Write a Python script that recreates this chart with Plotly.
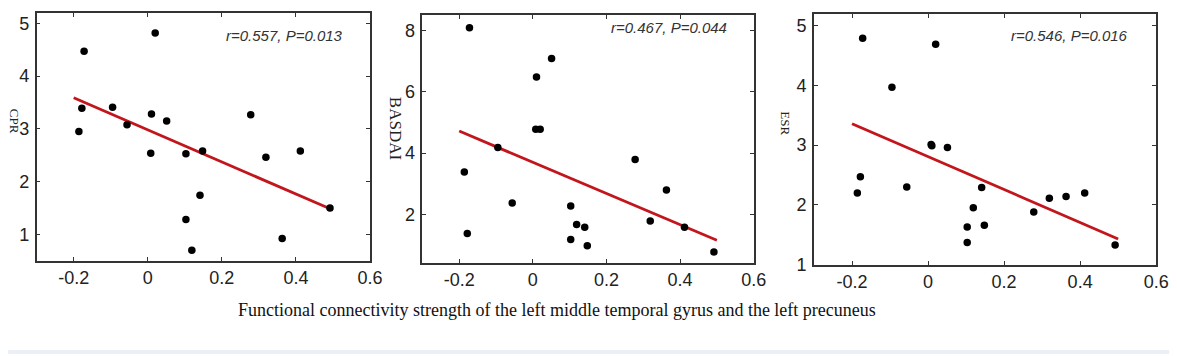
import plotly.graph_objects as go

# Shared x: functional connectivity strength
fc_strength = [-0.186, -0.178, -0.172, -0.095, -0.056, 0.008, 0.010, 0.020, 0.051,
               0.103, 0.103, 0.119, 0.141, 0.148, 0.278, 0.319, 0.363, 0.412, 0.492]

cpr = [2.95, 3.39, 4.47, 3.41, 3.08, 2.54, 3.28, 4.82, 3.15,
       2.53, 1.28, 0.70, 1.74, 2.58, 3.27, 2.46, 0.92, 2.58, 1.50]
basdai = [3.38, 1.37, 8.10, 4.18, 2.37, 4.78, 6.49, 4.78, 7.09,
          2.27, 1.18, 1.67, 1.58, 0.97, 3.79, 1.78, 2.79, 1.58, 0.77]
esr = [2.20, 2.47, 4.79, 3.97, 2.30, 3.01, 2.99, 4.69, 2.96,
       1.63, 1.37, 1.95, 2.29, 1.66, 1.88, 2.11, 2.14, 2.20, 1.33]

fit_x = [-0.2, 0.5]
cpr_fit = [3.59, 1.46]
basdai_fit = [4.72, 1.15]
esr_fit = [3.36, 1.43]

y_titles = ["CPR", "BASDAI", "ESR"]
stats_text = ["r=0.557, P=0.013", "r=0.467, P=0.044", "r=0.546, P=0.016"]
x_tickvals = [-0.2, 0, 0.2, 0.4, 0.6]
x_ticktext = ["-0.2", "0", "0.2", "0.4", "0.6"]
y_tickvals = [[1, 2, 3, 4, 5], [2, 4, 6, 8], [1, 2, 3, 4, 5]]
y_ranges = [[0.5, 5.2], [0.42, 8.52], [1.0, 5.2]]
bottom_label = "Functional connectivity strength of the left middle temporal gyrus and the left precuneus"

W, H = 1177, 356
x_dom_px = [(29, 366), (419, 754), (815, 1161)]
y_dom_px = [(5, 260), (7, 262), (6, 264)]

fig = go.Figure()
series = [(cpr, cpr_fit), (basdai, basdai_fit), (esr, esr_fit)]
for i, (ys, fit) in enumerate(series):
    sfx = "" if i == 0 else str(i + 1)
    fig.add_trace(go.Scatter(x=fit_x, y=fit, mode="lines",
                             line=dict(color="#C3161C", width=2.8),
                             xaxis="x" + sfx, yaxis="y" + sfx, showlegend=False))
    fig.add_trace(go.Scatter(x=fc_strength, y=ys, mode="markers",
                             marker=dict(color="black", size=7.5),
                             xaxis="x" + sfx, yaxis="y" + sfx, showlegend=False))

tick_font = dict(family="Liberation Sans, Arial, sans-serif", size=18, color="#222222")
layout = dict(width=W, height=H, margin=dict(l=0, r=0, t=0, b=0),
              paper_bgcolor="white", plot_bgcolor="white")
for i in range(3):
    sfx = "" if i == 0 else str(i + 1)
    x0, x1 = x_dom_px[i]
    yt, yb = y_dom_px[i]
    layout["xaxis" + sfx] = dict(domain=[x0 / W, x1 / W], range=[-0.3, 0.6],
                                 anchor="y" + sfx, tickvals=x_tickvals, ticktext=x_ticktext,
                                 ticks="inside", ticklen=4, tickcolor="#333",
                                 showline=True, linecolor="#333", linewidth=1.6,
                                 mirror="allticks", showgrid=False, zeroline=False,
                                 tickfont=tick_font, fixedrange=True)
    layout["yaxis" + sfx] = dict(domain=[1 - yb / H, 1 - yt / H], range=y_ranges[i],
                                 anchor="x" + sfx, tickvals=y_tickvals[i],
                                 ticks="inside", ticklen=4, tickcolor="#333",
                                 showline=True, linecolor="#333", linewidth=1.6,
                                 mirror="allticks", showgrid=False, zeroline=False,
                                 tickfont=tick_font, ticklabelstandoff=2, fixedrange=True)

annotations = []
stat_pos = [(280, 28), (668, 20), (1073, 28)]
title_pos = [(6, 117), (392, 124), (786, 119)]
title_sizes = [13, 17, 13]
for i in range(3):
    sx, sy = stat_pos[i]
    annotations.append(dict(text=stats_text[i], x=sx / W, y=1 - sy / H, xref="paper", yref="paper",
                            showarrow=False, xanchor="center", yanchor="middle",
                            font=dict(family="Liberation Sans, Arial, sans-serif", size=15,
                                      color="#333333", style="italic")))
    tx, ty = title_pos[i]
    annotations.append(dict(text=y_titles[i], x=tx / W, y=1 - ty / H, xref="paper", yref="paper",
                            showarrow=False, xanchor="center", yanchor="middle", textangle=90,
                            font=dict(family="Liberation Serif, Times New Roman, serif",
                                      size=title_sizes[i], color="#222222")))
annotations.append(dict(text=bottom_label, x=555 / W, y=1 - 311 / H, xref="paper", yref="paper",
                        showarrow=False, xanchor="center", yanchor="middle",
                        font=dict(family="Liberation Serif, Times New Roman, serif", size=18,
                                  color="#111111")))
layout["annotations"] = annotations
layout["shapes"] = [dict(type="rect", xref="paper", yref="paper", x0=0, x1=1,
                         y0=0, y1=4 / H, fillcolor="#EBF0F7", line=dict(width=0), layer="below")]
fig.update_layout(**layout)
fig.write_html("out.html")
